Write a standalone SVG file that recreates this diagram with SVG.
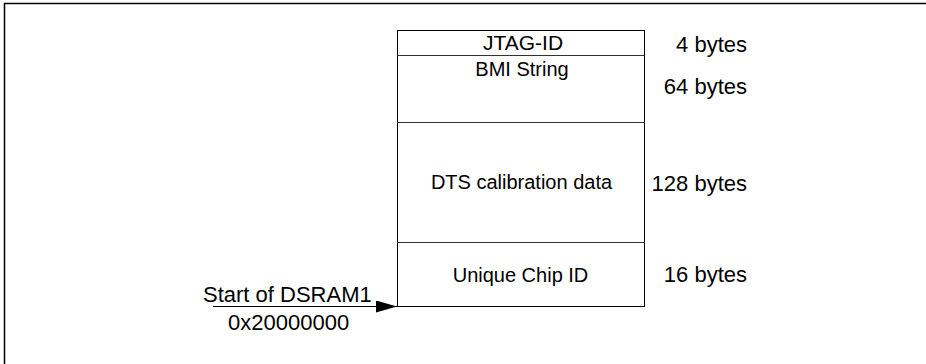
<svg xmlns="http://www.w3.org/2000/svg" width="926" height="364" viewBox="0 0 926 364">
<style>
.t{font-family:"Liberation Sans",Arial,sans-serif;fill:#000}
.b{font-size:20px;text-anchor:middle}
.s{font-size:22px;text-anchor:end}
.l{font-size:22px}
.box{fill:none;stroke:#000;stroke-width:1}
.div{stroke:#333;stroke-width:1}
</style>
<defs>
<marker id="ah" markerWidth="21" markerHeight="12" refX="21" refY="6" orient="auto" markerUnits="userSpaceOnUse">
<path d="M0,0 L21,6 L0,12 Z" fill="#000"/>
</marker>
</defs>
<g id="frame">
<path d="M4.5,364 L4.5,3.5 L926,3.5" fill="none" stroke="#000" stroke-width="1.5"/>
</g>
<g id="memory">
<rect class="box" x="397.5" y="30.5" width="247" height="276"/>
<line class="div" x1="397.5" y1="55.5" x2="644.5" y2="55.5"/>
<line class="div" x1="397.5" y1="122.5" x2="644.5" y2="122.5"/>
<line class="div" x1="397.5" y1="242.5" x2="644.5" y2="242.5"/>
</g>
<g id="jtag"><text class="t b" x="523" y="49.5" style="font-size:21px">JTAG-ID</text><text class="t s" x="747" y="51.5">4 bytes</text></g>
<g id="bmi"><text class="t b" x="522" y="75.5">BMI String</text><text class="t s" x="747" y="93.5">64 bytes</text></g>
<g id="dts"><text class="t b" x="521.5" y="188.5">DTS calibration data</text><text class="t s" x="747" y="190.5">128 bytes</text></g>
<g id="chipid"><text class="t b" x="520.5" y="281.5">Unique Chip ID</text><text class="t s" x="747" y="281.5">16 bytes</text></g>
<g id="start"><text class="t l" x="203" y="301.5">Start of DSRAM1</text><text class="t l" x="228" y="330">0x20000000</text></g>
<g id="connectors">
<line x1="213" y1="306.5" x2="397" y2="306.5" stroke="#000" stroke-width="1.2" marker-end="url(#ah)"/>
</g>
</svg>
